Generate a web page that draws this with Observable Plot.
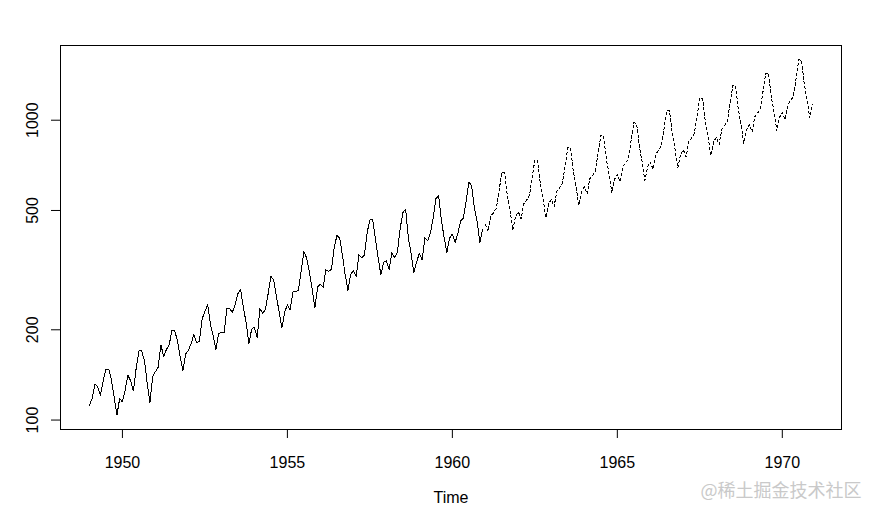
<!DOCTYPE html>
<html>
<head>
<meta charset="utf-8">
<script src="https://cdn.jsdelivr.net/npm/d3@7"></script>
<script src="https://cdn.jsdelivr.net/npm/@observablehq/plot@0.6"></script>
<style>
  html, body { margin: 0; padding: 0; background: #fff; }
</style>
</head>
<body>
<div id="chart"></div>
<script>
// Monthly airline passengers (thousands), Jan 1949 – Dec 1960
const actualStart = 1949;
const actual = [
  112,118,132,129,121,135,148,148,136,119,104,118,
  115,126,141,135,125,149,170,170,158,133,114,140,
  145,150,178,163,172,178,199,199,184,162,146,166,
  171,180,193,181,183,218,230,242,209,191,172,194,
  196,196,236,235,229,243,264,272,237,211,180,201,
  204,188,235,227,234,264,302,293,259,229,203,229,
  242,233,267,269,270,315,364,347,312,274,237,278,
  284,277,317,313,318,374,413,405,355,306,271,306,
  315,301,356,348,355,422,465,467,404,347,305,336,
  340,318,362,348,363,435,491,505,404,359,310,337,
  360,342,406,396,420,472,548,559,463,407,362,405,
  417,391,419,461,472,535,622,606,508,461,390,432
];
// Forecast, Jan 1961 – Dec 1970
const forecastStart = 1961;
const forecast = [
  450,426,479,492,509,583,670,667,558,497,430,477,
  495,469,527,541,560,641,737,734,614,547,473,525,
  545,515,580,595,616,705,811,807,675,601,520,577,
  599,567,638,655,677,776,892,888,743,661,572,635,
  659,624,701,720,745,854,981,977,817,728,630,698,
  725,686,771,792,820,939,1079,1074,899,800,693,768,
  797,755,849,872,902,1033,1187,1182,989,880,762,845,
  877,830,933,959,992,1136,1306,1300,1087,969,838,930,
  965,913,1027,1055,1091,1250,1436,1430,1196,1065,922,1023,
  1061,1004,1129,1160,1200,1375,1590,1583,1316,1172,1018,1125
];
const xTicks = [1950, 1955, 1960, 1965, 1970];
const yTicks = [100, 200, 500, 1000];
const xLabel = "Time";
const watermark = "@稀土掘金技术社区";

const actualData = actual.map((v, i) => ({t: actualStart + i / 12, v}));
const forecastData = forecast.map((v, i) => ({t: forecastStart + i / 12, v}));

const chart = Plot.plot({
  width: 869,
  height: 507,
  marginLeft: 60,
  marginRight: 28,
  marginTop: 45,
  marginBottom: 78,
  style: {fontFamily: "'Liberation Sans', Arial, sans-serif", fontSize: "16px", background: "#fff", color: "#000"},
  x: {type: "linear", domain: [1948.123, 1971.794], axis: null},
  y: {type: "log", domain: [93, 1775], axis: null},
  marks: [
    Plot.frame({stroke: "#000", strokeWidth: 1}),
    Plot.axisX({ticks: xTicks, tickSize: 9, tickFormat: () => "", label: null, stroke: "#000"}),
    Plot.axisY({ticks: yTicks, tickSize: 9, tickFormat: () => "", label: null, stroke: "#000"}),
    Plot.text(xTicks, {x: d => d, frameAnchor: "bottom", dy: 33, text: d => String(d), fill: "#000", lineAnchor: "middle"}),
    Plot.text(yTicks, {y: d => d, frameAnchor: "left", dx: -28, rotate: -90, text: d => String(d), fill: "#000", lineAnchor: "middle", textAnchor: "middle"}),
    Plot.text([xLabel], {frameAnchor: "bottom", dy: 68, text: d => d, fill: "#000", lineAnchor: "middle"}),
    Plot.text([watermark], {frameAnchor: "bottom-right", dx: 20, dy: 62, text: d => d, fill: "#c9c9c9", textAnchor: "end", lineAnchor: "middle", fontFamily: "'Noto Sans CJK SC', sans-serif", fontSize: 18}),
    Plot.line(actualData, {x: "t", y: "v", stroke: "#000", strokeWidth: 1, shapeRendering: "crispEdges"}),
    Plot.line(forecastData, {x: "t", y: "v", stroke: "#000", strokeWidth: 1, strokeDasharray: "2.5,2.5", shapeRendering: "crispEdges"})
  ]
});
document.getElementById("chart").appendChild(chart);
</script>
</body>
</html>
